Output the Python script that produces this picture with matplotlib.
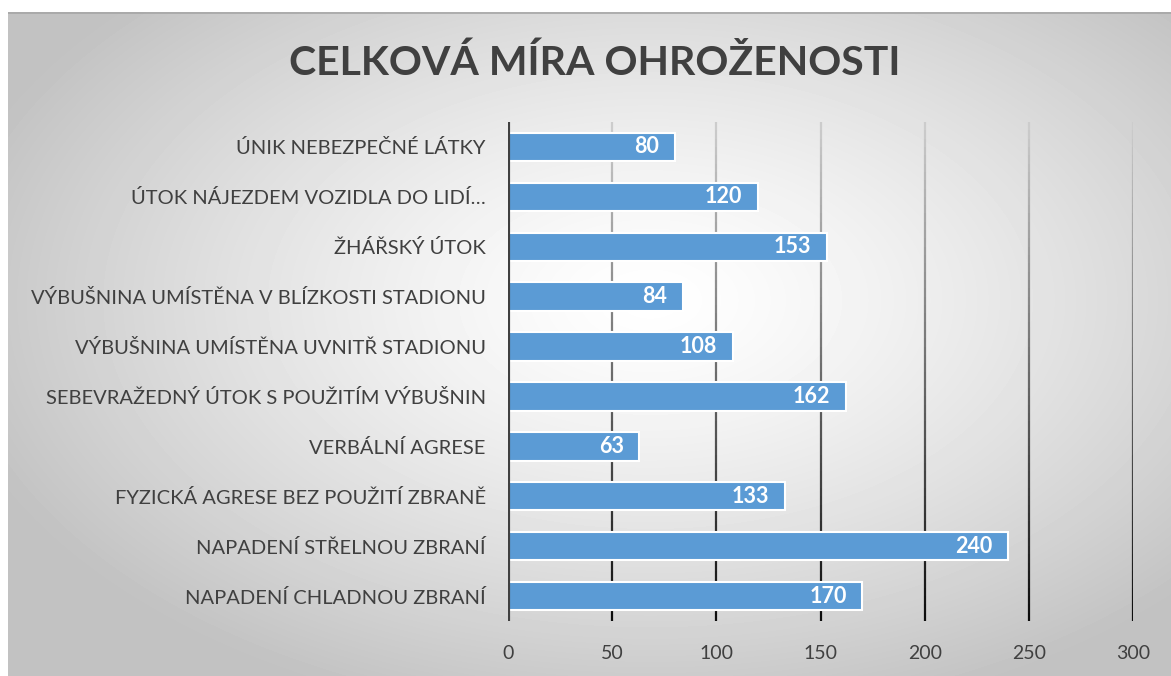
import numpy as np
import matplotlib
matplotlib.use('Agg')
import matplotlib.pyplot as plt
from matplotlib.collections import LineCollection

# data (bottom to top)
categories = [
    'NAPADENÍ CHLADNOU ZBRANÍ',
    'NAPADENÍ STŘELNOU ZBRANÍ',
    'FYZICKÁ AGRESE BEZ POUŽITÍ ZBRANĚ',
    'VERBÁLNÍ AGRESE',
    'SEBEVRAŽEDNÝ ÚTOK S POUŽITÍM VÝBUŠNIN',
    'VÝBUŠNINA UMÍSTĚNA UVNITŘ STADIONU',
    'VÝBUŠNINA UMÍSTĚNA V BLÍZKOSTI STADIONU',
    'ŽHÁŘSKÝ ÚTOK',
    'ÚTOK NÁJEZDEM VOZIDLA DO LIDÍ…',
    'ÚNIK NEBEZPEČNÉ LÁTKY',
]
values = [170, 240, 133, 63, 162, 108, 84, 153, 120, 80]
xticks = [0, 50, 100, 150, 200, 250, 300]
title = 'CELKOVÁ MÍRA OHROŽENOSTI'

W, H = 1171, 676
font = ['Lato', 'DejaVu Sans']
txt = '#404040'

fig = plt.figure(figsize=(W / 100, H / 100), dpi=100)
fig.patch.set_facecolor('white')

# radial gradient background of the chart frame
bg = fig.add_axes([8 / W, 0, 1 - 8 / W, 1 - 12 / H])
bg.set_axis_off()
yy, xx = np.mgrid[12:H, 8:W]
d = np.sqrt(((xx - 650) / 720.0) ** 2 + ((yy - 300) / 430.0) ** 2)
shade = 1.0 - 0.24 * np.clip(d, 0, 1) ** 1.3
bg.imshow(shade, cmap='gray', vmin=0, vmax=1, aspect='auto',
          extent=[0, 1, 0, 1], interpolation='bilinear')
bg.set_xlim(0, 1)
bg.set_ylim(0, 1)
bg.plot([0, 1], [0.999, 0.999], color='#a6a6a6', lw=1.2)

ax = fig.add_axes([508 / W, 1 - 621 / H, (1133 - 508) / W, (621 - 122) / H])
ax.patch.set_alpha(0)

y = np.arange(len(categories))
ax.set_xlim(0, 300)
ax.set_ylim(-0.5, len(categories) - 0.5)

# gridlines fading from light grey at the top to black at the bottom
n = 60
trans = ax.get_xaxis_transform()
for xv in xticks[1:]:
    ys = np.linspace(1, 0, n + 1)
    segs = [[(xv, ys[i]), (xv, ys[i + 1])] for i in range(n)]
    g = np.linspace(0.80, 0.05, n)
    cols = [(c, c, c) for c in g]
    lc = LineCollection(segs, colors=cols, linewidths=1.6, transform=trans,
                        zorder=1, capstyle='butt')
    ax.add_collection(lc)

bars = ax.barh(y, values, height=0.57, color='#5b9bd5', edgecolor='white',
               linewidth=1.5, zorder=3)
ax.axvline(0, color='#404040', lw=3, zorder=4)

for b, v in zip(bars, values):
    ax.text(v - 7.5, b.get_y() + b.get_height() / 2, str(v), ha='right',
            va='center', color='white', fontsize=15.5, fontweight='bold',
            family=font, zorder=5)

ax.set_yticks(y)
ax.set_yticklabels(categories, family=font, fontsize=14.5, color=txt)
ax.set_xticks(xticks)
ax.set_xticklabels([str(t) for t in xticks], family=font, fontsize=14,
                   color=txt)
ax.tick_params(axis='both', length=0)
ax.tick_params(axis='y', pad=16)
ax.tick_params(axis='x', pad=17)
for s in ax.spines.values():
    s.set_visible(False)

fig.text(595 / W, 1 - 63 / H, title, ha='center', va='center',
         fontsize=29.5, fontweight='bold', color=txt, family=font)

fig.savefig('out.png', dpi=100)
